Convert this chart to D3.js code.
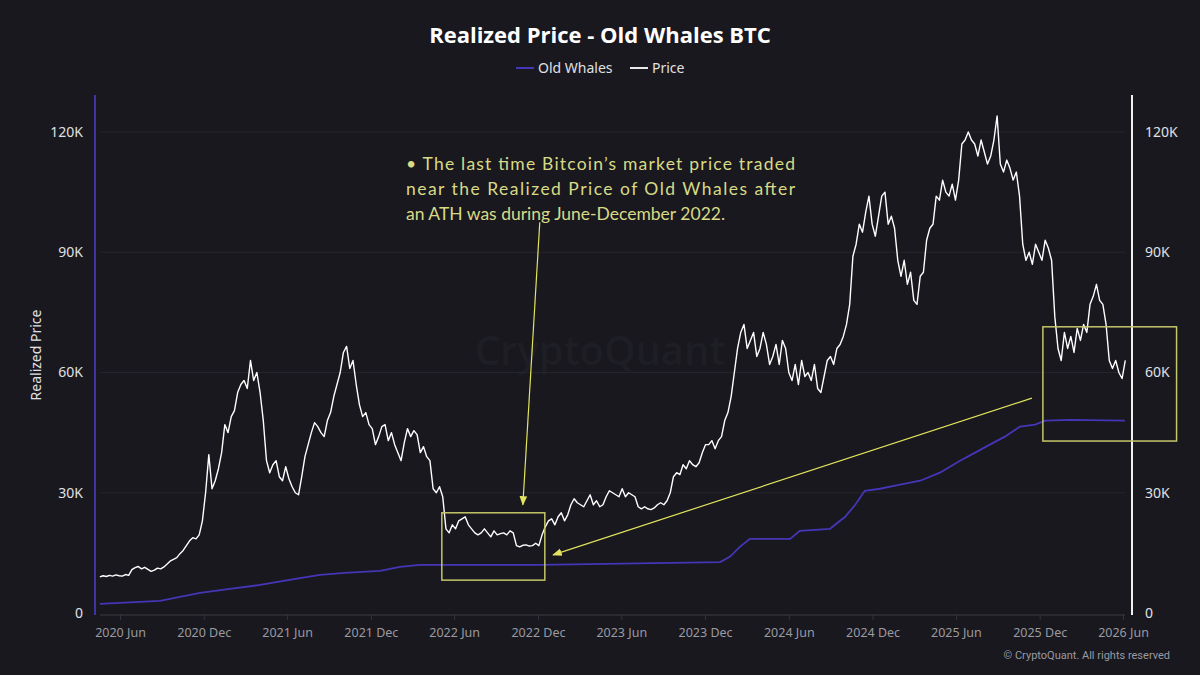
<!DOCTYPE html>
<html>
<head>
<meta charset="utf-8">
<script src="https://cdn.jsdelivr.net/npm/d3@7"></script>
<style>
  body { margin: 0; background: #18181e; }
  svg { display: block; }
</style>
</head>
<body>
<div id="chart"></div>
<script>
// price series: one value every 7 days, starting on priceStart (values in USD thousands)
const priceStart = "2020-04-18";
const priceStepDays = 7;
const priceValues = [
  9.0, 9.3, 9.1, 9.4, 9.2, 9.5, 9.3, 9.2, 9.6, 9.4,
  10.8, 11.3, 11.6, 11.0, 11.4, 10.9, 10.4, 10.7, 11.2, 11.0,
  11.5, 12.2, 13.0, 13.4, 13.8, 14.8, 15.6, 16.8, 18.0, 18.8,
  18.5, 19.5, 23.0, 30.0, 39.5, 31.0, 33.0, 36.0, 40.0, 47.0,
  45.0, 49.0, 50.5, 55.0, 57.0, 58.0, 56.0, 63.0, 58.0, 60.0,
  55.0, 48.0, 38.0, 35.0, 37.0, 38.0, 34.0, 33.0, 36.5, 33.5,
  31.5, 30.0, 29.5, 34.0, 39.0, 42.0, 45.0, 47.5, 46.5, 45.0,
  44.0, 48.0, 50.0, 54.0, 57.0, 60.0, 65.0, 66.5, 61.0, 63.0,
  57.0, 52.0, 49.0, 50.0, 47.0, 46.0, 42.0, 44.0, 46.5, 47.0,
  43.0, 45.0, 42.0, 40.0, 38.0, 42.5, 46.0, 44.0, 45.5, 44.5,
  40.0, 41.5, 39.0, 38.0, 31.0, 30.0, 31.5, 29.0, 21.0, 20.0,
  22.0, 21.0, 23.0, 23.5, 24.0, 22.0, 21.0, 20.0, 19.5, 20.0,
  21.0, 20.0, 19.0, 20.5, 19.5, 19.8, 20.0, 19.5, 20.5, 20.0,
  16.8, 16.5, 16.9, 17.0, 16.7, 16.8, 17.4, 16.8, 19.5, 21.5,
  23.0, 23.5, 22.0, 24.0, 25.0, 23.0, 24.5, 27.0, 28.5, 27.5,
  27.0, 26.5, 28.0, 29.5, 27.0, 28.0, 26.5, 27.0, 29.0, 30.5,
  30.0, 29.5, 29.0, 31.0, 29.0, 30.0, 29.5, 29.0, 26.5, 26.0,
  26.5, 26.0, 25.8, 26.2, 27.0, 27.5, 27.0, 28.0, 30.0, 34.0,
  35.0, 34.5, 37.0, 36.0, 38.0, 37.0, 36.5, 37.5, 40.0, 42.0,
  42.0, 43.0, 41.0, 43.0, 44.0, 48.0, 50.0, 54.0, 60.0, 66.0,
  70.0, 72.0, 66.0, 68.0, 70.0, 64.0, 66.0, 70.0, 67.0, 62.0,
  64.0, 67.0, 62.0, 68.0, 66.0, 60.0, 58.0, 62.0, 57.0, 63.0,
  59.0, 60.0, 58.0, 62.0, 56.0, 55.0, 59.0, 63.0, 64.0, 62.0,
  66.0, 67.0, 69.0, 72.0, 77.0, 89.0, 92.0, 97.0, 95.0, 100.0,
  104.0, 97.0, 94.0, 99.0, 104.0, 105.0, 97.0, 99.0, 96.0, 88.0,
  84.0, 88.0, 82.0, 85.0, 78.0, 77.0, 84.0, 85.0, 93.0, 96.0,
  97.0, 104.0, 103.0, 108.0, 105.0, 104.0, 107.0, 103.0, 108.0, 117.0,
  118.0, 120.0, 118.0, 117.0, 114.0, 118.0, 115.0, 112.0, 114.0, 118.0,
  124.0, 112.0, 110.0, 113.0, 111.0, 108.0, 110.0, 104.0, 92.0, 88.0,
  90.0, 87.0, 92.0, 90.0, 88.0, 93.0, 91.0, 88.0, 74.0, 66.0,
  63.0, 70.0, 66.0, 69.0, 65.0, 71.0, 68.0, 72.0, 70.0, 77.0,
  79.0, 82.0, 78.0, 77.0, 72.0, 63.0, 61.0, 63.0, 60.0, 58.5,
  63.0
];

// realized price of old whales (USD thousands)
const realizedDates = [
  "2020-04-18", "2020-08-27", "2020-11-23", "2021-01-27", "2021-04-03",
  "2021-06-29", "2021-08-12", "2021-10-05", "2021-12-21", "2022-02-03",
  "2022-03-18", "2022-12-05", "2024-01-03", "2024-01-24", "2024-02-15",
  "2024-03-08", "2024-06-04", "2024-06-25", "2024-08-30", "2024-10-02",
  "2024-10-24", "2024-11-14", "2024-12-17", "2025-01-30", "2025-03-15",
  "2025-04-27", "2025-06-10", "2025-07-13", "2025-08-14", "2025-09-16",
  "2025-10-19", "2025-11-21", "2025-12-13", "2026-02-05", "2026-06-05"
];
const realizedValues = [
  2.3, 3.0, 5.0, 6.0, 7.0,
  8.7, 9.5, 10.0, 10.5, 11.5,
  12.0, 12.0, 12.7, 14.0, 16.5,
  18.5, 18.5, 20.5, 21.0, 24.0,
  27.0, 30.5, 31.0, 32.0, 33.0,
  35.0, 38.0, 40.0, 42.0, 44.0,
  46.5, 47.0, 48.0, 48.2, 48.0
];

const yTicks = [0, 30000, 60000, 90000, 120000];
const xTickDates = [
  "2020-06-01", "2020-12-01", "2021-06-01", "2021-12-01", "2022-06-01",
  "2022-12-01", "2023-06-01", "2023-12-01", "2024-06-01", "2024-12-01",
  "2025-06-01", "2025-12-01", "2026-06-01"
];

const noteLines = [
  "\u2022 The last time Bitcoin\u2019s market price traded",
  "near the Realized Price of Old Whales after",
  "an ATH was during June-December 2022."
];
// highlight boxes [start date, end date, low, high] and arrows [from date, from value, to date, to value]
const boxes = [
  ["2022-05-05", "2022-12-16", 8200, 25000],
  ["2025-12-08", "2026-09-26", 42900, 71400]
];
const arrows = [
  ["2022-12-05", 97500, "2022-10-29", 27000],
  ["2025-11-14", 53600, "2023-01-03", 14500]
];

const width = 1200, height = 675;
const parse = d3.utcParse("%Y-%m-%d");

const svg = d3.select('#chart').append('svg')
  .attr('width', width).attr('height', height);

svg.append('rect').attr('width', width).attr('height', height).attr('fill', '#18181e');

const x = d3.scaleUtc()
  .domain([parse("2020-06-01"), parse("2026-06-01")])
  .range([120, 1123]);
const y = d3.scaleLinear().domain([0, 120000]).range([613, 132]);

const priceData = priceValues.map((v, i) => ({
  date: d3.utcDay.offset(parse(priceStart), i * priceStepDays),
  value: v * 1000
}));
const realizedData = realizedDates.map((d, i) => ({ date: parse(d), value: realizedValues[i] * 1000 }));

// watermark
svg.append('text')
  .attr('x', 600).attr('y', 365)
  .attr('text-anchor', 'middle')
  .style('font-family', 'Open Sans, sans-serif')
  .style('font-size', '40px')
  .style('font-weight', 600)
  .style('fill', '#1e1e25')
  .text('CryptoQuant');

// gridlines
svg.append('g').selectAll('line')
  .data(yTicks.filter(d => d > 0))
  .join('line')
  .attr('x1', 100).attr('x2', 1125)
  .attr('y1', d => y(d)).attr('y2', d => y(d))
  .attr('stroke', '#24242c').attr('stroke-width', 1);

// x axis
const xAxis = d3.axisBottom(x)
  .tickValues(xTickDates.map(parse))
  .tickFormat(d3.utcFormat("%Y %b"))
  .tickSize(5)
  .tickPadding(8);
const gx = svg.append('g').attr('transform', `translate(0,${y(0) + 2})`).call(xAxis);
gx.select('.domain').remove();
gx.append('line').attr('x1', 100).attr('x2', 1125).attr('stroke', '#3a3a42');
gx.selectAll('.tick line').attr('stroke', '#33333b');
gx.selectAll('.tick text')
  .style('font-family', 'Noto Sans, sans-serif')
  .style('font-size', '12.5px')
  .style('fill', '#9a9aa2');

// left axis
const yFormat = d => d === 0 ? '0' : (d / 1000) + 'K';
const gl = svg.append('g').attr('transform', 'translate(95,0)')
  .call(d3.axisLeft(y).tickValues(yTicks).tickFormat(yFormat).tickSize(0).tickPadding(12));
gl.select('.domain').remove();
gl.selectAll('text').style('font-family', 'Noto Sans, sans-serif').style('font-size', '14px').style('fill', '#e0e0e4');
svg.append('line').attr('x1', 95).attr('x2', 95).attr('y1', 95).attr('y2', 615)
  .attr('stroke', '#3f33a6').attr('stroke-width', 2);

// right axis
const gr = svg.append('g').attr('transform', 'translate(1132,0)')
  .call(d3.axisRight(y).tickValues(yTicks).tickFormat(yFormat).tickSize(0).tickPadding(13));
gr.select('.domain').remove();
gr.selectAll('text').style('font-family', 'Noto Sans, sans-serif').style('font-size', '14px').style('fill', '#e0e0e4');
svg.append('line').attr('x1', 1132).attr('x2', 1132).attr('y1', 95).attr('y2', 615)
  .attr('stroke', '#f0f0f0').attr('stroke-width', 2);

// y axis title
svg.append('text')
  .attr('transform', 'translate(41,355) rotate(-90)')
  .attr('text-anchor', 'middle')
  .style('font-family', 'Noto Sans, sans-serif')
  .style('font-size', '14px')
  .style('fill', '#e0e0e4')
  .text('Realized Price');

// lines
const line = d3.line().x(d => x(d.date)).y(d => y(d.value));
svg.append('path').datum(realizedData)
  .attr('d', line)
  .attr('fill', 'none')
  .attr('stroke', '#4536b8')
  .attr('stroke-width', 1.8);
svg.append('path').datum(priceData)
  .attr('d', line)
  .attr('fill', 'none')
  .attr('stroke', '#ffffff')
  .attr('stroke-width', 1.4)
  .attr('stroke-linejoin', 'round');

// annotation boxes and arrows
const noteColor = '#d8da86';
svg.append('g').selectAll('rect')
  .data(boxes)
  .join('rect')
  .attr('x', d => x(parse(d[0])))
  .attr('y', d => y(d[3]))
  .attr('width', d => x(parse(d[1])) - x(parse(d[0])))
  .attr('height', d => y(d[2]) - y(d[3]))
  .attr('fill', 'none')
  .attr('stroke', '#c4c66a')
  .attr('stroke-width', 1.5);

svg.append('defs').append('marker')
  .attr('id', 'arrowhead')
  .attr('viewBox', '0 0 10 10')
  .attr('refX', 9).attr('refY', 5)
  .attr('markerWidth', 8).attr('markerHeight', 8)
  .attr('orient', 'auto-start-reverse')
  .append('path')
  .attr('d', 'M0,1 L10,5 L0,9 Z')
  .attr('fill', '#e2e45e');

svg.append('g').selectAll('line')
  .data(arrows)
  .join('line')
  .attr('x1', d => x(parse(d[0]))).attr('y1', d => y(d[1]))
  .attr('x2', d => x(parse(d[2]))).attr('y2', d => y(d[3]))
  .attr('stroke', '#e2e45e')
  .attr('stroke-width', 1.2)
  .attr('marker-end', 'url(#arrowhead)');

svg.append('g').selectAll('text')
  .data(noteLines)
  .join('text')
  .attr('x', 406)
  .attr('y', (d, i) => 170 + i * 25)
  .attr('textLength', (d, i) => i < 2 ? 389 : null)
  .attr('lengthAdjust', 'spacing')
  .style('font-family', 'Lato, sans-serif')
  .style('font-size', '17.5px')
  .style('fill', noteColor)
  .text(d => d);

// title and legend
svg.append('text')
  .attr('x', 600).attr('y', 43)
  .attr('text-anchor', 'middle')
  .style('font-family', 'Open Sans, sans-serif')
  .style('font-size', '22px')
  .style('font-weight', 700)
  .style('fill', '#ffffff')
  .text('Realized Price - Old Whales BTC');

function legendItem(lx, color, label) {
  svg.append('line').attr('x1', lx).attr('x2', lx + 18).attr('y1', 68).attr('y2', 68)
    .attr('stroke', color).attr('stroke-width', 2);
  svg.append('text').attr('x', lx + 22).attr('y', 73)
    .style('font-family', 'Noto Sans, sans-serif')
    .style('font-size', '14px')
    .style('fill', '#e0e0e4')
    .text(label);
}
legendItem(516, '#4536b8', 'Old Whales');
legendItem(630, '#e8e8e8', 'Price');

svg.append('text')
  .attr('x', 1170).attr('y', 659)
  .attr('text-anchor', 'end')
  .style('font-family', 'Roboto, sans-serif')
  .style('font-size', '11px')
  .style('fill', '#9a9aa2')
  .text('\u00a9 CryptoQuant. All rights reserved');
</script>
</body>
</html>
